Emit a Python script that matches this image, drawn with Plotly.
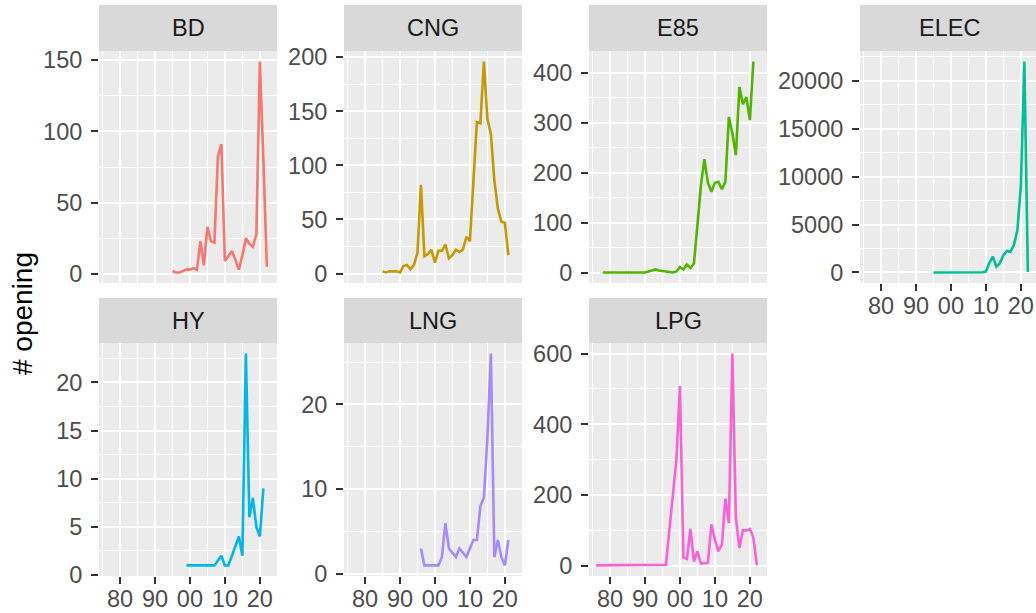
import plotly.graph_objects as go

# ---------------- data ----------------
fuel_types = ["BD", "CNG", "E85", "ELEC", "HY", "LNG", "LPG"]
fuel_colors = ["#F8766D", "#C49A00", "#53B400", "#00C094", "#00B6EB", "#A58AFF", "#FB61D7"]

bd_years = list(range(1995, 2023))
bd_values = [2, 1, 1, 2, 3, 3, 4, 3, 23, 6, 33, 23, 22, 82, 91, 9,
             13, 16, 10, 3, 13, 25, 21, 19, 28, 149, 80, 5]

cng_years = list(range(1985, 2022))
cng_values = [2, 1, 2, 2, 2, 1, 7, 8, 4, 8, 19, 82, 16, 18, 22, 10,
              21, 21, 27, 14, 17, 22, 20, 22, 34, 30, 85, 140, 139, 196,
              143, 129, 86, 60, 48, 47, 17]

e85_years = list(range(1978, 2022))
e85_values = [1, 1, 1, 1, 1, 1, 1, 1, 1, 1, 1, 1, 1,
              3, 5, 7, 5, 4, 3, 1, 1, 3, 12, 7, 17, 10, 19, 95,
              175, 227, 180, 162, 180, 182, 167, 182, 311, 279, 235,
              371, 337, 351, 305, 422]

elec_years = list(range(1995, 2023))
elec_values = [1, 1, 2, 2, 3, 3, 2, 2, 3, 3, 5, 6, 8, 10, 20,
               100, 1000, 1650, 600, 950, 1800, 2250, 2150, 2850, 4400,
               9000, 22000, 50]

hy_years = [1999, 2000, 2001, 2002, 2003, 2004, 2005, 2006, 2007,
            2009, 2010, 2011, 2012, 2013, 2014, 2015, 2016, 2017, 2018,
            2019, 2020, 2021]
hy_values = [1, 1, 1, 1, 1, 1, 1, 1, 1,
             2, 1, 1, 2, 3, 4, 2, 23, 6, 8, 5, 4, 9]

lng_years = [1996, 1997, 1998, 1999, 2000, 2001, 2002, 2003, 2004,
             2006, 2007, 2009, 2010, 2011, 2012, 2013, 2014, 2015, 2016,
             2017, 2018, 2019, 2020, 2021]
lng_values = [3, 1, 1, 1, 1, 1, 2, 6, 3, 2, 3, 2, 3, 4, 4, 8, 9, 16, 26,
              2, 4, 2, 1, 4]

lpg_years = list(range(1976, 1997)) + list(range(1999, 2023))
lpg_values = [1, 1, 1, 1, 1, 1, 1, 1, 1, 1, 1, 1, 1, 2, 2, 2, 2, 2, 3, 3, 3,
              301, 508, 24, 19, 104, 12, 41, 6, 7, 8, 117, 74, 41, 60, 190,
              121, 600, 136, 50, 100, 100, 104, 79, 2]

year_ticks = [1980, 1990, 2000, 2010, 2020]
year_tick_labels = ["80", "90", "00", "10", "20"]
y_dticks = [50, 50, 100, 5000, 5, 10, 200]

series_years = [bd_years, cng_years, e85_years, elec_years, hy_years, lng_years, lpg_years]
series_values = [bd_values, cng_values, e85_values, elec_values, hy_values, lng_values, lpg_values]

# ---------------- layout geometry (pixels) ----------------
W, H = 1036, 613
col_px = [(99, 277), (344, 522), (589, 767), (860, 1036)]
row_panel_px = [(51, 283), (343, 576)]
row_strip_px = [(5, 51), (298, 343)]
x_range = [1974.0, 2024.9]

def xp(v):
    return v / W

def yp(v):
    return 1 - v / H

FONT = "Liberation Sans"
TICK_COLOR = "#4D4D4D"
FS = 23.5

fig = go.Figure()
shapes = []
annotations = []

for i, name in enumerate(fuel_types):
    r, c = divmod(i, 4)
    ax = "" if i == 0 else str(i + 1)
    xs, ys = series_years[i], series_values[i]
    fig.add_trace(go.Scatter(
        x=xs, y=ys, mode="lines",
        line=dict(color=fuel_colors[i], width=2.6),
        xaxis="x" + ax, yaxis="y" + ax, showlegend=False,
        hoverinfo="x+y"))
    x0, x1 = col_px[c]
    py0, py1 = row_panel_px[r]
    vmin, vmax = min(ys), max(ys)
    pad = 0.05 * (vmax - vmin)
    xr = list(x_range)
    if x1 - x0 < 178:
        # last column is clipped by the figure edge
        xr[1] = x_range[0] + (x_range[1] - x_range[0]) * (x1 - x0) / 178
    show_x = (r == 1) or (c == 3)
    fig.layout["xaxis" + ax] = dict(
        domain=[xp(x0), xp(x1)], anchor="y" + ax, range=xr,
        tickvals=year_ticks, ticktext=year_tick_labels,
        showticklabels=show_x, ticks="outside" if show_x else "",
        ticklen=7, tickwidth=2, tickcolor="#333333", ticklabelstandoff=-5,
        tickfont=dict(family=FONT, size=FS, color=TICK_COLOR),
        showgrid=True, gridcolor="white", gridwidth=2.2,
        minor=dict(dtick=5, tick0=1975, showgrid=True, gridcolor="white", gridwidth=1.1),
        zeroline=False, showline=False, fixedrange=True, automargin=False)
    fig.layout["yaxis" + ax] = dict(
        domain=[yp(py1), yp(py0)], anchor="x" + ax,
        range=[vmin - pad, vmax + pad],
        dtick=y_dticks[i], tick0=0, tickformat="d",
        ticks="outside", ticklen=7, tickwidth=2, tickcolor="#333333", ticklabelstandoff=4,
        tickfont=dict(family=FONT, size=FS, color=TICK_COLOR),
        showgrid=True, gridcolor="white", gridwidth=2.2,
        minor=dict(dtick=y_dticks[i] / 2, tick0=0, showgrid=True, gridcolor="white", gridwidth=1.1),
        zeroline=False, showline=False, fixedrange=True, automargin=False)
    s0, s1 = row_strip_px[r]
    shapes.append(dict(type="rect", xref="paper", yref="paper",
                       x0=xp(x0), x1=xp(x1), y0=yp(s1), y1=yp(s0),
                       fillcolor="#D9D9D9", line=dict(width=0), layer="below"))
    annotations.append(dict(text=name, xref="paper", yref="paper",
                            x=xp((x0 + (x0 + 178)) / 2), y=yp((s0 + s1) / 2),
                            showarrow=False, xanchor="center", yanchor="middle",
                            font=dict(family=FONT, size=FS, color="#1A1A1A")))

annotations.append(dict(text="# opening", xref="paper", yref="paper",
                        x=xp(22), y=yp(314), textangle=-90, showarrow=False,
                        xanchor="center", yanchor="middle",
                        font=dict(family=FONT, size=28, color="black")))

fig.update_layout(
    width=W, height=H, autosize=False,
    margin=dict(l=0, r=0, t=0, b=0, pad=0, autoexpand=False),
    paper_bgcolor="white", plot_bgcolor="#EBEBEB",
    shapes=shapes, annotations=annotations,
    showlegend=False)

fig.write_html("out.html", config={"displayModeBar": False},
               post_script="document.body.style.margin='0';document.body.style.overflow='hidden';")
